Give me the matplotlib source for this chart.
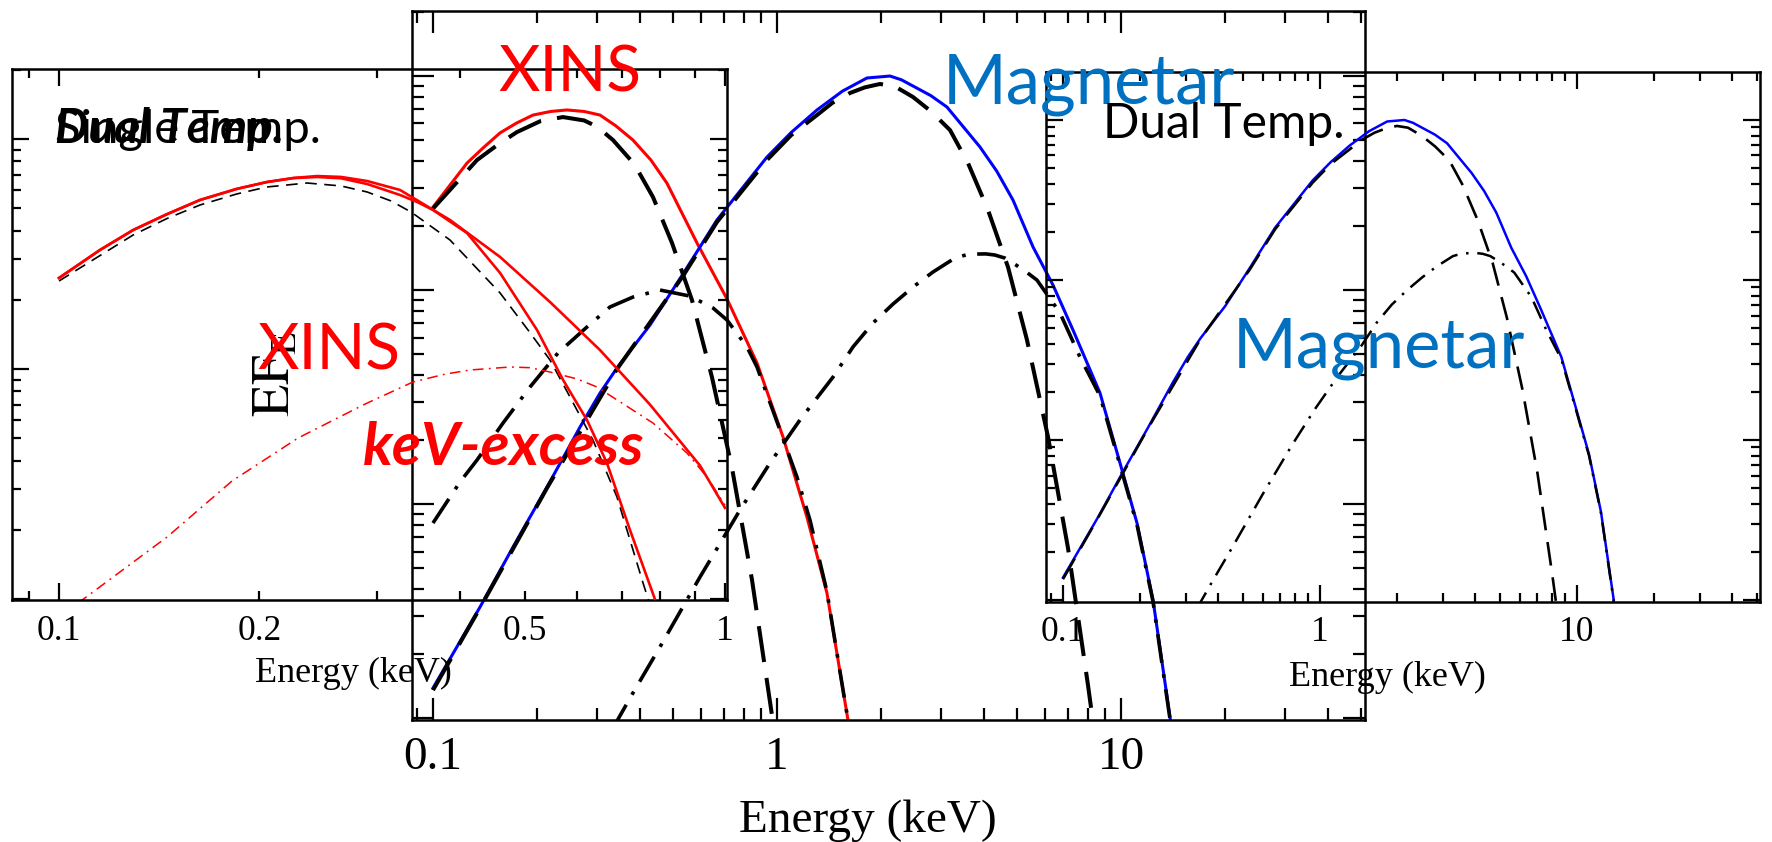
import numpy as np
import matplotlib
matplotlib.use("Agg")
import matplotlib.pyplot as plt
from matplotlib.ticker import LogLocator, NullFormatter, FixedLocator, FuncFormatter

# ---------------- data (energy in keV, E F_E in arbitrary units) ----------------
# middle panel: XINS model
xins_E = [0.1, 0.1256, 0.14, 0.1566, 0.175, 0.1953, 0.22, 0.2451, 0.275, 0.3059, 0.34, 0.3814,
          0.43, 0.4786, 0.5853, 0.7157, 0.8747, 1.041, 1.222, 1.397, 1.608, 1.652]
xins_total = [0.244, 0.392, 0.462, 0.542, 0.603, 0.657, 0.683, 0.694, 0.683, 0.657, 0.585, 0.502,
              0.405, 0.316, 0.166, 0.0908, 0.0456, 0.0206, 0.00869, 0.00384, 0.00098, 0.00064]
xins_bb1_E = [0.1, 0.1343, 0.155, 0.1754, 0.205, 0.2386, 0.275, 0.30, 0.3337, 0.385, 0.436,
              0.4952, 0.566, 0.647, 0.740, 0.846, 0.967, 0.9934]
xins_bb1 = [0.24, 0.405, 0.48, 0.547, 0.615, 0.643, 0.62, 0.58, 0.502, 0.387, 0.272,
            0.166, 0.0898, 0.0392, 0.01473, 0.00442, 0.00103, 0.00075]
xins_bb2_E = [0.1, 0.1198, 0.1343, 0.1598, 0.1914, 0.2309, 0.2804, 0.3269, 0.3814, 0.457,
              0.5585, 0.6516, 0.7157, 0.818, 0.8747, 1.020, 1.143, 1.247, 1.397, 1.494,
              1.608, 1.652]
xins_bb2 = [0.00815, 0.01267, 0.01606, 0.0239, 0.0352, 0.0508, 0.0672, 0.0833, 0.0927, 0.1,
            0.0937, 0.0824, 0.0724, 0.0542, 0.0437, 0.0222, 0.01337, 0.00842, 0.0039, 0.00201,
            0.00098, 0.00064]

# middle + right panels: magnetar model
mag_E = [0.1, 0.137, 0.1709, 0.2145, 0.2676, 0.3059, 0.3426, 0.4274, 0.5329, 0.669,
         0.935, 1.1, 1.307, 1.55, 1.826, 2.131, 2.3, 2.485, 2.8, 3.120, 3.891, 4.35, 4.853,
         5.549, 6.343, 7.253, 8.690, 9.934, 11.13, 12.39, 13.88, 14.26]
mag_total = [0.00138, 0.0033, 0.0063, 0.0120, 0.0229, 0.0330, 0.0432, 0.0686, 0.1188, 0.2124,
             0.418, 0.545, 0.694, 0.85, 0.979, 1.0, 0.96, 0.898, 0.81, 0.716, 0.466, 0.36, 0.2634,
             0.159, 0.1055, 0.0650, 0.0330, 0.01554, 0.00815, 0.00356, 0.00101, 0.00071]
mag_bb1_E = [0.1, 0.137, 0.2145, 0.3426, 0.5329, 0.669, 0.935, 1.1, 1.307, 1.45, 1.630, 1.8,
             1.992, 2.2, 2.485, 2.8, 3.184, 3.591, 4.106, 4.694, 5.330, 6.135, 7.013, 8.017, 8.35]
mag_bb1 = [0.00135, 0.00327, 0.01188, 0.0427, 0.1162, 0.2078, 0.405, 0.53, 0.657, 0.75, 0.833,
           0.885, 0.918, 0.895, 0.798, 0.685, 0.559, 0.392, 0.2365, 0.128, 0.0584, 0.0206,
           0.00623, 0.001426, 0.00088]
mag_bb2_E = [0.3313, 0.3814, 0.457, 0.5973, 0.7805, 0.954, 1.166, 1.455, 1.663, 1.901,
             2.174, 2.5, 2.841, 3.291, 3.55, 3.814, 4.05, 4.302, 4.6, 4.853, 5.25, 5.698, 6.649,
             7.600, 8.690, 9.934, 11.13, 12.39, 13.88, 14.26]
mag_bb2 = [0.00088, 0.00131, 0.00215, 0.00456, 0.00937, 0.01554, 0.0247, 0.0392, 0.0542, 0.0701,
           0.0860, 0.104, 0.1214, 0.1411, 0.146, 0.1473, 0.1475, 0.1457, 0.141, 0.1337, 0.123,
           0.1113, 0.0781, 0.0486, 0.0320, 0.0152, 0.0080, 0.0035, 0.00099, 0.0007]

# left panel: XINS single / dual temperature
left_dual_E = [0.1, 0.1152, 0.1292, 0.145, 0.1628, 0.185, 0.2052, 0.225, 0.2440, 0.265, 0.2901,
               0.3251, 0.35, 0.3864, 0.4595, 0.5461, 0.6490, 0.7716, 0.9173, 1.0]
left_dual = [0.2487, 0.3291, 0.4019, 0.47, 0.543, 0.607, 0.650, 0.677, 0.690, 0.684, 0.6566,
             0.6003, 0.528, 0.4445, 0.3069, 0.1955, 0.1209, 0.070, 0.038, 0.0249]
left_single_E = [0.1, 0.1152, 0.1292, 0.145, 0.1628, 0.185, 0.2052, 0.225, 0.2440, 0.265, 0.2901,
                 0.3251, 0.345, 0.3644, 0.4098, 0.4595, 0.5221, 0.5713, 0.6205, 0.6649, 0.7200,
                 0.7905]
left_single = [0.2487, 0.3291, 0.4019, 0.47, 0.543, 0.607, 0.650, 0.676, 0.6835, 0.675, 0.6373,
               0.5709, 0.532, 0.4913, 0.3901, 0.2615, 0.1477, 0.0896, 0.0600, 0.0390, 0.01995,
               0.00942]
left_bb_E = [0.1, 0.1292, 0.145, 0.1628, 0.185, 0.2052, 0.2357, 0.265, 0.2901, 0.315, 0.3377,
             0.3864, 0.4595, 0.5061, 0.5461, 0.5852, 0.6335, 0.6882, 0.7532, 0.7716]
left_bb = [0.2413, 0.3824, 0.45, 0.5164, 0.577, 0.6185, 0.6436, 0.625, 0.5884, 0.538, 0.4816,
           0.3638, 0.2140, 0.1477, 0.1094, 0.0755, 0.0491, 0.0278, 0.01174, 0.00942]
left_exc_E = [0.1068, 0.1453, 0.1819, 0.2285, 0.2881, 0.3400, 0.38, 0.4141, 0.4756, 0.51, 0.5461,
              0.60, 0.6423, 0.7796, 0.8768, 0.9397, 1.0]
left_exc = [0.0096, 0.0186, 0.0326, 0.0501, 0.0704, 0.0878, 0.095, 0.0990, 0.1020, 0.1013, 0.0970,
            0.0905, 0.0835, 0.0582, 0.0431, 0.0339, 0.0256]

mid_xticks = [0.1, 1, 10]
mid_xticklabels = ["0.1", "1", "10"]
left_xticks = [0.1, 1]
left_minor_labels = {0.2: "0.2", 0.5: "0.5"}
xlabel_text = "Energy (keV)"
ylabel_text = r"$\mathrm{EF}_{\mathrm{E}}$"

# ---------------- figure ----------------
plt.rcParams["font.family"] = ["Liberation Serif", "DejaVu Serif"]
plt.rcParams["mathtext.fontset"] = "stix"
W, H = 1772, 842
fig = plt.figure(figsize=(W / 100, H / 100), dpi=100)
fig.patch.set_facecolor("white")


def add_ax(x0, y0, x1, y1):
    return fig.add_axes([x0 / W, 1 - y1 / H, (x1 - x0) / W, (y1 - y0) / H])


def style(ax, xlim, ylim, majlen, minlen, lsize, pad, spine_w=1.8):
    ax.set_xscale("log")
    ax.set_yscale("log")
    ax.set_xlim(*xlim)
    ax.set_ylim(*ylim)
    ax.set_facecolor("none")
    for s in ax.spines.values():
        s.set_linewidth(spine_w)
    ax.xaxis.set_minor_locator(LogLocator(base=10, subs=np.arange(2, 10) * 1.0, numticks=50))
    ax.yaxis.set_major_locator(LogLocator(base=10, numticks=50))
    ax.yaxis.set_minor_locator(LogLocator(base=10, subs=np.arange(2, 10) * 1.0, numticks=50))
    ax.yaxis.set_major_formatter(NullFormatter())
    ax.yaxis.set_minor_formatter(NullFormatter())
    ax.tick_params(which="both", direction="in", top=True, right=True, width=1.6,
                   labelsize=lsize, pad=pad, color="black")
    ax.tick_params(which="major", length=majlen)
    ax.tick_params(which="minor", length=minlen)


# middle (largest) panel
axm = add_ax(412, 11, 1365, 720)
style(axm, (0.0869, 51.2), (9.79e-4, 2.013), 15.8, 8.6, 34, 12)
axm.xaxis.set_major_locator(FixedLocator(mid_xticks))
axm.set_xticklabels(mid_xticklabels)
axm.xaxis.set_minor_formatter(NullFormatter())
axm.plot(xins_E, xins_total, color="red", lw=2.2, zorder=2)
axm.plot(mag_E, mag_total, color="blue", lw=2.2, zorder=2)
axm.plot(xins_bb1_E, xins_bb1, color="black", lw=2.9, ls=(0, (9, 4)), zorder=3)
axm.plot(xins_bb2_E, xins_bb2, color="black", lw=2.6, ls=(0, (8, 3.2, 1, 3.2)), zorder=3)
axm.plot(mag_bb1_E, mag_bb1, color="black", lw=2.9, ls=(0, (9, 4)), zorder=3)
axm.plot(mag_bb2_E, mag_bb2, color="black", lw=2.6, ls=(0, (8, 3.2, 1, 3.2)), zorder=3)

# left panel
axl = add_ax(12, 69, 727, 600)
style(axl, (0.0850, 1.0069), (0.0099, 2.015), 12, 6.3, 25.5, 10.5)
axl.xaxis.set_major_locator(FixedLocator(left_xticks))
axl.set_xticklabels(["0.1", "1"])
axl.xaxis.set_minor_formatter(FuncFormatter(lambda v, p: left_minor_labels.get(round(v, 3), "")))
axl.plot(left_bb_E, left_bb, color="black", lw=1.2, ls=(0, (7, 4.5)), zorder=2)
axl.plot(left_exc_E, left_exc, color="red", lw=1.1, ls=(0, (7, 3.5, 1.2, 3.5)), zorder=2)
axl.plot(left_single_E, left_single, color="red", lw=1.9, zorder=3)
axl.plot(left_dual_E, left_dual, color="red", lw=1.9, zorder=3)

# right panel
axr = add_ax(1046, 72, 1760, 602)
style(axr, (0.0859, 51.5), (9.72e-4, 1.995), 12, 6.3, 25.5, 10)
axr.xaxis.set_major_locator(FixedLocator(mid_xticks))
axr.set_xticklabels(mid_xticklabels)
axr.xaxis.set_minor_formatter(NullFormatter())
axr.plot(mag_E, mag_total, color="blue", lw=1.8, zorder=2)
axr.plot(mag_bb1_E, mag_bb1, color="black", lw=1.9, ls=(0, (9, 4.5)), zorder=3)
axr.plot(mag_bb2_E, mag_bb2, color="black", lw=1.8, ls=(0, (7.5, 3.5, 1, 3.5)), zorder=3)


# ---------------- texts ----------------
def ftext(x, y, s, **kw):
    return fig.text(x / W, 1 - y / H, s, **kw)


ftext(868, 832, xlabel_text, ha="center", va="baseline", fontsize=34)
ftext(353, 682, xlabel_text, ha="center", va="baseline", fontsize=26)
ftext(1387, 686, xlabel_text, ha="center", va="baseline", fontsize=26)
ftext(277, 374, ylabel_text, ha="center", va="center", rotation=90, fontsize=38)

sans = ["Lato", "DejaVu Sans"]
ftext(55, 143, "Single Temp.", family=sans, fontsize=34, color="black", va="baseline")
ftext(55, 143, "Dual Temp.", family=sans, fontsize=34, color="black", va="baseline",
      fontweight="bold", style="italic")
ftext(257, 370, "XINS", family=sans, fontsize=46, color="red", va="baseline")
ftext(498, 92, "XINS", family=sans, fontsize=46, color="red", va="baseline")
ftext(363, 465, "keV-excess", family=sans, fontsize=43, color="red", va="baseline",
      fontweight="bold", style="italic")
ftext(943, 103, "Magnetar", family=sans, fontsize=49.5, color="#0070C0", va="baseline")
ftext(1233, 368, "Magnetar", family=sans, fontsize=49.5, color="#0070C0", va="baseline")
ftext(1103, 138, "Dual Temp.", family=sans, fontsize=34.5, color="black", va="baseline")

fig.savefig("out.png", dpi=100, facecolor="white")
